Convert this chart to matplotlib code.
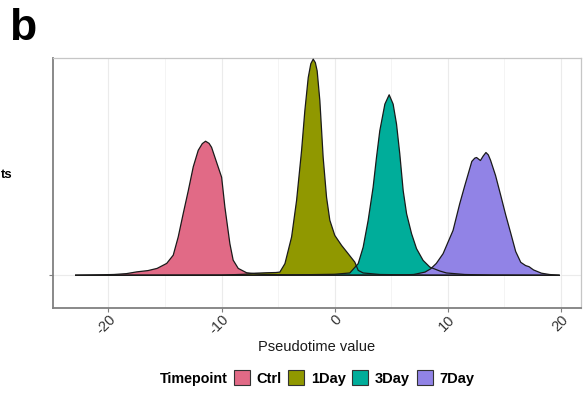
import matplotlib
matplotlib.use("Agg")
import matplotlib.pyplot as plt
from matplotlib.patches import Patch
import numpy as np

plt.rcParams['font.family'] = ['Liberation Sans', 'DejaVu Sans']

categories = ["Ctrl", "1Day", "3Day", "7Day"]
colors = ["#E16A86", "#909800", "#00AD9A", "#9183E6"]

ctrl_x = [-22.9, -21.0, -19.5, -18.4, -17.5, -16.5, -15.7, -14.85, -14.27, -13.83, -13.39,
          -12.94, -12.50, -12.06, -11.7, -11.41, -11.1, -10.88, -10.43, -9.99, -9.70, -9.26,
          -8.97, -8.52, -7.78, -6.5, -4.0, 0.0, 19.86]
ctrl_y = [0.0, 0.002, 0.004, 0.008, 0.016, 0.022, 0.032, 0.055, 0.093, 0.177, 0.284,
          0.39, 0.50, 0.576, 0.607, 0.618, 0.608, 0.59, 0.52, 0.452, 0.314, 0.146,
          0.07, 0.032, 0.012, 0.005, 0.002, 0.001, 0.0]

day1_x = [-22.9, -10.0, -8.0, -7.0, -6.0, -5.2, -4.84, -4.39, -3.80, -3.36, -2.92, -2.63,
          -2.33, -2.1, -1.89, -1.7, -1.54, -1.30, -1.01, -0.71, -0.42, 0.02, 0.62, 1.20,
          1.79, 2.09, 2.53, 4.0, 8.0, 19.86]
day1_y = [0.0, 0.001, 0.005, 0.01, 0.012, 0.013, 0.015, 0.054, 0.177, 0.345, 0.574, 0.758,
          0.911, 0.975, 0.996, 0.98, 0.942, 0.804, 0.544, 0.36, 0.254, 0.184, 0.138, 0.1,
          0.061, 0.023, 0.011, 0.004, 0.001, 0.0]

day3_x = [-22.9, -5.0, 0.0, 1.35, 2.09, 2.53, 2.97, 3.41, 3.71, 4.00, 4.45, 4.83, 5.18,
          5.48, 5.77, 6.07, 6.37, 6.81, 7.25, 7.83, 8.43, 9.31, 9.90, 11.5, 14.0, 19.86]
day3_y = [0.0, 0.001, 0.005, 0.011, 0.054, 0.13, 0.253, 0.406, 0.544, 0.666, 0.789, 0.832,
          0.789, 0.697, 0.559, 0.39, 0.284, 0.192, 0.123, 0.069, 0.038, 0.02, 0.011, 0.004,
          0.001, 0.0]

day7_x = [-22.9, -5.0, 3.0, 6.0, 7.0, 8.0, 8.5, 9.0, 9.6, 10.48, 11.07, 11.5, 11.78, 12.14,
          12.4, 12.56, 12.9, 13.15, 13.39, 13.6, 13.8, 14.24, 14.69, 15.13, 15.58, 16.02,
          16.47, 16.9, 17.2, 17.6, 18.3, 19.0, 19.86]
day7_y = [0.0, 0.0005, 0.001, 0.002, 0.004, 0.015, 0.03, 0.055, 0.1, 0.207, 0.33, 0.41,
          0.46, 0.525, 0.54, 0.543, 0.529, 0.55, 0.566, 0.555, 0.53, 0.46, 0.37, 0.28,
          0.195, 0.11, 0.06, 0.045, 0.04, 0.025, 0.01, 0.004, 0.0]

series = [(ctrl_x, ctrl_y), (day1_x, day1_y), (day3_x, day3_y), (day7_x, day7_y)]
xticks = [-20, -10, 0, 10, 20]
xminor = [-15, -5, 5, 15]

fig = plt.figure(figsize=(5.84, 3.96), dpi=100)
ax = fig.add_axes([0.0899, 0.223, 0.905, 0.6314])

for (xs, ys), c in zip(series, colors):
    ax.fill_between(xs, 0, ys, facecolor=c, edgecolor="none", zorder=2)
    ax.plot(xs, ys, color="#1a1a1a", lw=0.9, zorder=3)

ax.set_xlim(-24.95, 21.8)
ax.set_ylim(-0.149, 1.003)

ax.set_xticks(xticks)
ax.set_xticks(xminor, minor=True)
ax.set_yticks([0])
ax.set_yticklabels([""])
ax.set_xticklabels([str(t) for t in xticks], rotation=45, ha="right", va="top",
                   rotation_mode="anchor", fontsize=10.5, color="#333333")
ax.tick_params(axis="x", which="minor", length=0)
ax.tick_params(axis="both", which="major", length=3, color="#7f7f7f", width=0.8)
ax.tick_params(axis="x", which="major", pad=0.5)

ax.grid(True, which="major", color="#ebebeb", lw=0.8, zorder=0)
ax.grid(True, which="minor", axis="x", color="#f2f2f2", lw=0.6, zorder=0)
ax.set_axisbelow(True)

for s in ["top", "right"]:
    ax.spines[s].set_color("#c6c6c6")
    ax.spines[s].set_linewidth(0.9)
for s in ["left", "bottom"]:
    ax.spines[s].set_color("#808080")
    ax.spines[s].set_linewidth(1.3)

ax.set_xlabel("Pseudotime value", fontsize=10.5, color="#1a1a1a", labelpad=2)

fig.text(0.5 / 584, 1 - 175 / 396, "ts", ha="left", va="center",
         fontsize=9.5, fontweight="bold")
fig.text(9 / 584, 1 - 28 / 396, "b", ha="left", va="center", fontsize=32,
         fontweight="bold")

fig.text(160 / 584, 1 - 379 / 396, "Timepoint", ha="left", va="center",
         fontsize=10.3, fontweight="bold")
handles = [Patch(facecolor=c, edgecolor="#333333", lw=0.8) for c in colors]
leg = fig.legend(handles, categories, loc="center left",
                 bbox_to_anchor=(234 / 584, 1 - 378 / 396), ncol=4, frameon=False,
                 prop={"size": 10.5, "weight": "bold"}, handlelength=1.1,
                 handleheight=1.15, handletextpad=0.45, columnspacing=0.45,
                 borderaxespad=0, borderpad=0)

fig.savefig("out.png", dpi=100)
